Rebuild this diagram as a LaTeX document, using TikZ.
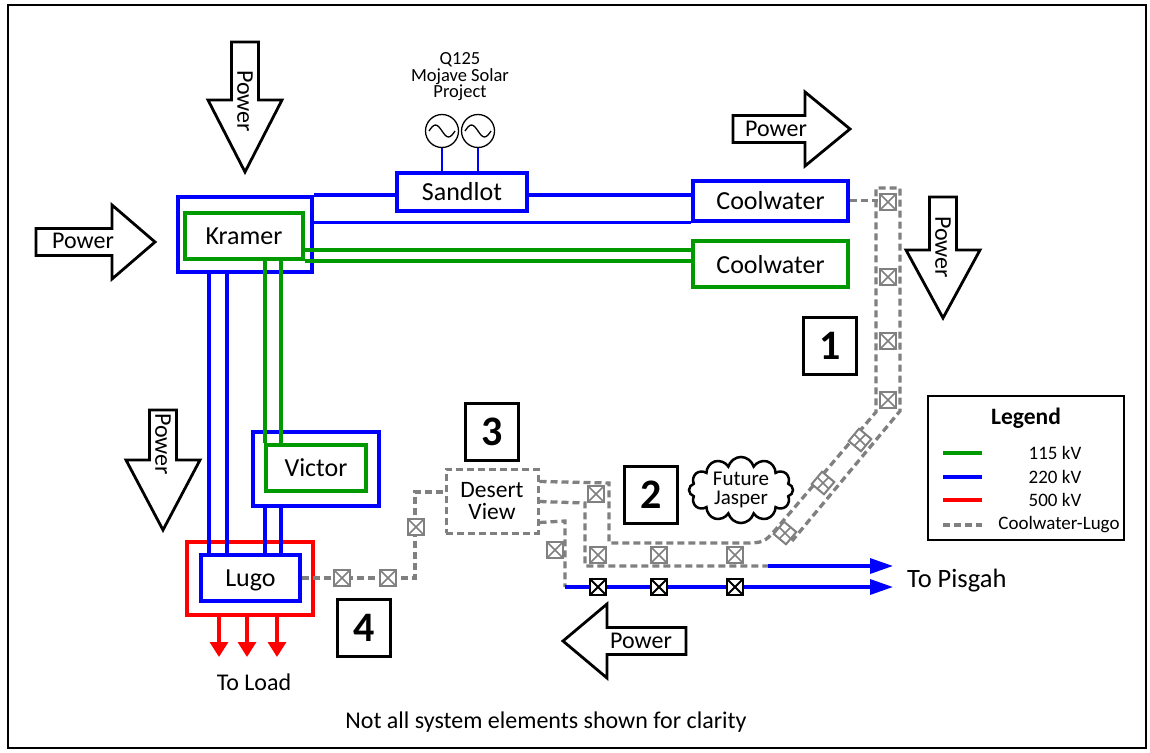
\documentclass[tikz,border=0pt]{standalone}
\usepackage{fontspec}
\setmainfont{Carlito}
\usetikzlibrary{calc,arrows.meta,shapes.symbols}
\definecolor{kvblue}{RGB}{0,0,255}
\definecolor{kvgreen}{RGB}{0,153,0}
\definecolor{kvred}{RGB}{255,0,0}
\definecolor{cwgray}{RGB}{128,128,128}
\def\powerarrow(#1)[#2:#3:#4]{\draw[powerline, shift={(#1)}, rotate=#2] (0,-13.5) -- ({#3-#4},-13.5) -- ({#3-#4},-37) -- (#3,0) -- ({#3-#4},37) -- ({#3-#4},13.5) -- (0,13.5) -- cycle;}

\begin{document}
\begin{tikzpicture}[x=1pt, y=-1pt,
	b220/.style={draw=kvblue, line width=3.3pt},
	g115/.style={draw=kvgreen, line width=3.3pt},
	r500/.style={draw=kvred, line width=3.3pt},
	cwl/.style={draw=cwgray, line width=3.3pt, dash pattern=on 7pt off 4pt},
	lbl/.style={font=\fontsize{26}{30}\selectfont, inner sep=0pt, text depth=0pt},
	note/.style={font=\fontsize{24}{28}\selectfont, inner sep=0pt},
	bbox/.style={lbl, draw=kvblue, line width=4pt},
	gbox/.style={lbl, draw=kvgreen, line width=4pt},
	rbox/.style={lbl, draw=kvred, line width=4pt},
	dvbox/.style={draw=cwgray, line width=3pt, dash pattern=on 7pt off 4pt, minimum width=92pt, minimum height=64pt, align=center, inner sep=0pt, font=\fontsize{23.5}{22}\selectfont},
	numbox/.style={draw, line width=3pt, fill=white, minimum width=53pt, minimum height=57pt, inner sep=0pt, font=\bfseries\fontsize{42}{42}\selectfont},
	gen/.style={circle, draw, line width=1.3pt, minimum size=33pt, inner sep=0pt},
	sw/.style={draw=cwgray, fill=white, line width=2pt, minimum size=16pt, inner sep=0pt, path picture={\draw[cwgray, line width=1.6pt] (path picture bounding box.north west) -- (path picture bounding box.south east) (path picture bounding box.north east) -- (path picture bounding box.south west);}},
	swk/.style={draw=black, fill=white, line width=2.4pt, minimum size=16pt, inner sep=0pt, path picture={\draw[black, line width=2pt] (path picture bounding box.north west) -- (path picture bounding box.south east) (path picture bounding box.north east) -- (path picture bounding box.south west);}},
	powerline/.style={draw=black, line width=2.8pt, fill=white, line join=miter},
	powertext/.style={font=\fontsize{24}{28}\selectfont, inner sep=0pt}
	]
	\useasboundingbox (0,0) rectangle (1150,752);
	\draw[line width=2pt] (8,5) rectangle (1146,748);
	
	%%%%% substations %%%%%
	\node[bbox, minimum width=134pt, minimum height=75pt] (kramerO) at (245,234.5) {};
	\node[gbox, minimum width=118pt, minimum height=46pt] (kramerI) at (244,236) {Kramer};
	\node[bbox, minimum width=130pt, minimum height=38pt] (sandlot) at (462,191.5) {Sandlot};
	\node[bbox, minimum width=155pt, minimum height=40pt] (coolB) at (770.5,200.5) {Coolwater};
	\node[gbox, minimum width=155pt, minimum height=46pt] (coolG) at (770.5,264) {Coolwater};
	\node[bbox, minimum width=126pt, minimum height=74pt] (victorB) at (316,469) {};
	\node[gbox, minimum width=100pt, minimum height=46pt] (victorG) at (316,468) {Victor};
	\node[rbox, minimum width=126pt, minimum height=73pt] (lugoR) at (250,578.5) {};
	\node[bbox, minimum width=99pt, minimum height=46pt] (lugoB) at (250.5,578) {Lugo};
	\node[dvbox] (desert) at (492,501) {Desert\\View};
	
	%%%%% generators %%%%%
	\node[gen] (gen1) at (442,131) {};
	\node[gen] (gen2) at (478,131) {};
	\draw[line width=1.3pt] ([xshift=-13pt]gen1.center) sin ++(6.5,-6) cos ++(6.5,6) sin ++(6.5,6) cos ++(6.5,-6);
	\draw[line width=1.3pt] ([xshift=-13pt]gen2.center) sin ++(6.5,-6) cos ++(6.5,6) sin ++(6.5,6) cos ++(6.5,-6);
	\draw[kvblue, line width=2pt] (gen1.south) -- (gen1.south |- sandlot.north);
	\draw[kvblue, line width=2pt] (gen2.south) -- (gen2.south |- sandlot.north);
	\node[align=center, inner sep=0pt, font=\fontsize{18.5}{16.5}\selectfont] (q125) at (460,77) {Q125\\Mojave Solar\\Project};
	
	%%%%% 220 kV and 115 kV lines %%%%%
	\draw[b220] (kramerO.north east) -- (sandlot.west |- kramerO.north east);
	\draw[b220] (sandlot.east |- kramerO.north east) -- (coolB.west |- kramerO.north east);
	\draw[b220] (kramerO.east |- coolB.south west) -- (coolB.south west);
	\draw[g115] ($(kramerI.south east)+(0,-11)$) -- ($(coolG.west |- kramerI.south east)+(0,-11)$);
	\draw[g115] (kramerI.south east) -- (coolG.west |- kramerI.south east);
	
	\coordinate (lk1) at ($(lugoB.north west)+(10,0)$);
	\coordinate (lk2) at ($(lugoB.north west)+(28,0)$);
	\coordinate (lk3) at ($(lugoB.north west)+(66,0)$);
	\coordinate (lk4) at ($(lugoB.north west)+(82,0)$);
	\draw[b220] (lk1 |- kramerO.south) -- (lk1);
	\draw[b220] (lk2 |- kramerO.south) -- (lk2);
	\draw[g115] (lk3 |- kramerI.south) -- (lk3 |- victorG.north);
	\draw[g115] (lk4 |- kramerI.south) -- (lk4 |- victorG.north);
	\draw[b220] (lk3 |- victorB.south) -- (lk3);
	\draw[b220] (lk4 |- victorB.south) -- (lk4);
	
	%%%%% 500 kV to load %%%%%
	\draw[r500, -{Triangle[width=18pt,length=15pt]}] ($(lugoR.south west)+(34,0)$) -- ++(0,40);
	\draw[r500, -{Triangle[width=18pt,length=15pt]}] ($(lugoR.south west)+(62,0)$) -- ++(0,40);
	\draw[r500, -{Triangle[width=18pt,length=15pt]}] ($(lugoR.south west)+(92,0)$) -- ++(0,40);
	\node[note] (toload) at (254,682) {To Load};
	
	%%%%% Coolwater-Lugo %%%%%
	\draw[cwl] (coolB.east) -- ++(28,0);
	\draw[cwl] ($(desert.north east)+(0,14)$) -- (609,483) -- (609,543) -- (740,543) .. controls (764,543) .. (777,528) -- (876,412) -- (876,188) -- (900,188) -- (900,411) -- (792,541);
	\draw[cwl] ($(desert.north east)+(0,34)$) -- (585,503) -- (585,566) -- (768,566);
	\draw[cwl] ($(desert.south east)+(0,-12)$) -- (565,521) -- (565,587);
	\draw[cwl] (lugoB.east) -- (415,578) -- (415,492) -- ($(desert.west)+(0,-9)$);
	
	\coordinate (pisA) at (893,566);
	\coordinate (pisB) at (893,587);
	\draw[b220, -{Triangle[width=15pt,length=23pt]}] (768,566) -- (pisA);
	\draw[b220, -{Triangle[width=15pt,length=23pt]}] (565,587) -- (pisB);
	\node[lbl, anchor=west, font=\fontsize{26.5}{30}\selectfont] (pisgah) at (907,578) {To Pisgah};
	
	\node[sw] (sw1) at (888,202) {};
	\node[sw] (sw2) at (888,277) {};
	\node[sw] (sw3) at (888,341) {};
	\node[sw] (sw4) at (888,400) {};
	\node[sw, rotate=50] (sw5) at (860,440) {};
	\node[sw, rotate=50] (sw6) at (823,483) {};
	\node[sw, rotate=50] (sw7) at (785,533) {};
	\node[sw] (sw8) at (596,494) {};
	\node[sw] (sw9) at (598,555) {};
	\node[sw] (sw10) at (659,555) {};
	\node[sw] (sw11) at (735,555) {};
	\node[sw] (sw12) at (555,550) {};
	\node[sw] (sw13) at (342,578) {};
	\node[sw] (sw14) at (388,578) {};
	\node[sw] (sw15) at (416,527) {};
	\node[swk] (swk1) at (598,587) {};
	\node[swk] (swk2) at (659,587) {};
	\node[swk] (swk3) at (735,587) {};
	
	%%%%% areas %%%%%
	\node[numbox] (n1) at (830,346) {1};
	\node[numbox] (n2) at (651,495) {2};
	\node[numbox] (n3) at (492,432) {3};
	\node[numbox] (n4) at (364,628) {4};
	\node[cloud, cloud puffs=12, aspect=1.7, draw, line width=2.5pt, minimum width=104pt, minimum height=62pt, inner sep=0pt, align=center, font=\fontsize{21}{19}\selectfont] (jasper) at (741,490) {Future\\Jasper};
	
	%%%%% power flow %%%%%
	\powerarrow(245,42)[-90:130:72]
	\powerarrow(36,242)[0:119:43]
	\powerarrow(733,129)[0:117:45]
	\powerarrow(943,197)[-90:121:68]
	\powerarrow(163,410)[-90:120:70]
	\powerarrow(686,641)[180:123:44]
	\node[powertext, rotate=-90] (pwr1) at (245,101) {Power};
	\node[powertext] (pwr2) at (83,241) {Power};
	\node[powertext] (pwr3) at (776,129) {Power};
	\node[powertext, rotate=-90] (pwr4) at (943,247) {Power};
	\node[powertext, rotate=-90] (pwr5) at (163,444) {Power};
	\node[powertext] (pwr6) at (641,641) {Power};
	
	%%%%% legend %%%%%
	\node[draw, line width=2pt, minimum width=196pt, minimum height=144pt] (legend) at (1026,468) {};
	\node[inner sep=0pt, font=\bfseries\fontsize{23.5}{28}\selectfont] (legtitle) at (1026,418) {Legend};
	\draw[g115, line width=4pt] (943,453) -- (982,453);
	\draw[b220, line width=4pt] (943,477) -- (982,477);
	\draw[r500, line width=4pt] (943,500) -- (982,500);
	\draw[cwl, line width=4pt] (943,525) -- (982,525);
	\node[inner sep=0pt, font=\fontsize{19}{22}\selectfont] (leg115) at (1055,453) {115 kV};
	\node[inner sep=0pt, font=\fontsize{19}{22}\selectfont] (leg220) at (1055,477) {220 kV};
	\node[inner sep=0pt, font=\fontsize{19}{22}\selectfont] (leg500) at (1055,500) {500 kV};
	\node[inner sep=0pt, font=\fontsize{19}{22}\selectfont] (legcwl) at (1059,525) {Coolwater-Lugo};
	
	\node[note] (clarity) at (546,722) {Not all system elements shown for clarity};
\end{tikzpicture}
\end{document}
